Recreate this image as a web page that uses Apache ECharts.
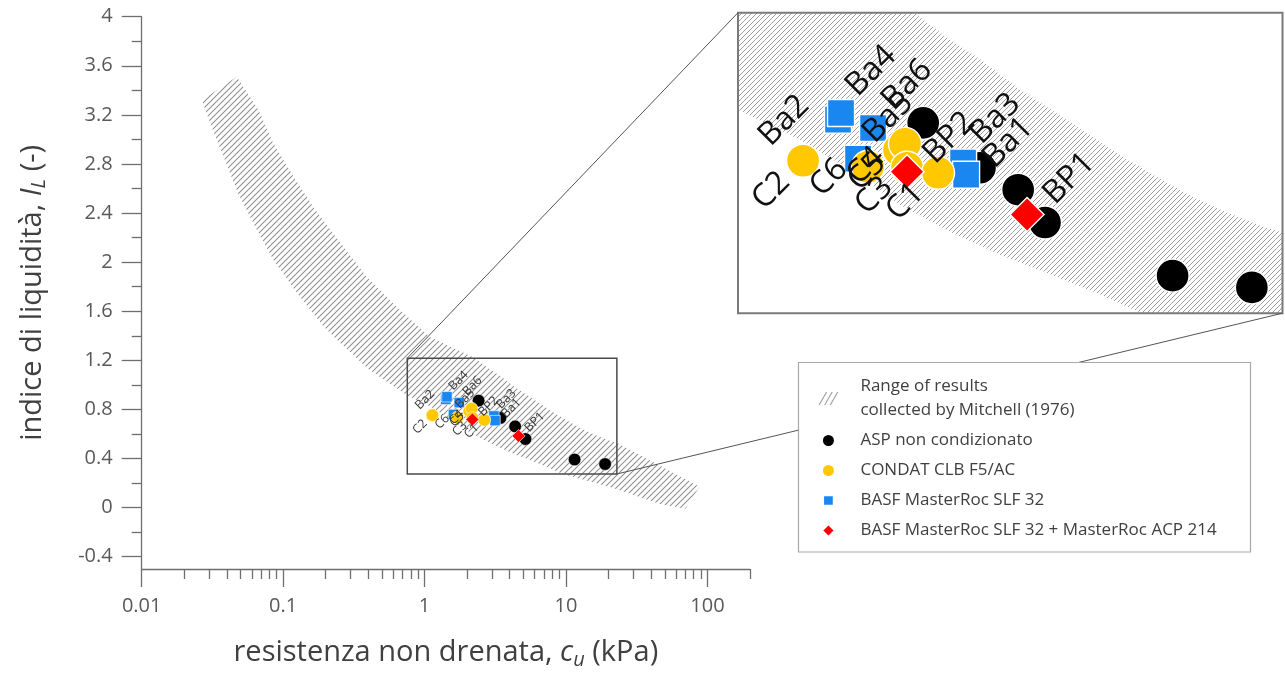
<!DOCTYPE html>
<html><head><meta charset="utf-8">
<script src="https://cdn.jsdelivr.net/npm/echarts@6/dist/echarts.min.js"></script>
<style>html,body{margin:0;padding:0;background:#fff}#c{width:1285px;height:675px}</style>
</head><body><div id="c"></div>
<script>
// ---------------- data ----------------
const aspX = [2.41, 3.44, 4.37, 5.17, 11.5, 18.9];
const aspY = [0.872, 0.731, 0.662, 0.559, 0.392, 0.355];

const condatLabels = ['C2', 'C6', 'C4', 'C5', 'C3', 'C1'];
const condatX = [1.135, 1.705, 2.071, 2.150, 2.178, 2.645];
const condatY = [0.753, 0.734, 0.787, 0.806, 0.731, 0.715];

const basfLabels = ['Ba2', 'Ba4', 'Ba5', 'Ba6', 'Ba3', 'Ba1'];
const basfX = [1.413, 1.440, 1.602, 1.760, 3.094, 3.153];
const basfY = [0.882, 0.903, 0.759, 0.856, 0.747, 0.709];

const acpLabels = ['BP2', 'BP1'];
const acpX = [2.178, 4.62];
const acpY = [0.718, 0.584];

// Mitchell (1976) range: upper and lower boundaries
const bandUpperX = [0.047, 0.067, 0.085, 0.118, 0.168, 0.253, 0.39, 0.67, 1.09, 1.6, 2.28, 2.78, 3.46, 4.31, 5.37, 6.69, 8.38, 10.4, 13.0, 16.2, 20.2, 23, 40, 88];
const bandUpperY = [3.51, 3.24, 2.97, 2.70, 2.43, 2.16, 1.88, 1.61, 1.39, 1.30, 1.217, 1.142, 1.070, 0.985, 0.913, 0.841, 0.766, 0.703, 0.640, 0.590, 0.546, 0.527, 0.38, 0.17];
const bandLowerX = [0.0266, 0.0313, 0.0388, 0.0481, 0.0633, 0.0852, 0.125, 0.192, 0.239, 0.4, 0.755, 1.113, 1.523, 2.084, 2.852, 3.902, 5.338, 7.30, 9.385, 21.6, 46, 70];
const bandLowerY = [3.32, 3.10, 2.83, 2.56, 2.29, 2.02, 1.75, 1.48, 1.37, 1.13, 0.913, 0.819, 0.725, 0.615, 0.530, 0.458, 0.396, 0.333, 0.276, 0.16, 0.03, -0.01];

// axes / ticks
const xRange = [0.01, 200];
const yRange = [-0.5, 4];
const xTickValues = [0.01, 0.1, 1, 10, 100];
const xTickLabels = ['0.01', '0.1', '1', '10', '100'];
const xMinorValues = [0.02,0.03,0.04,0.05,0.06,0.07,0.08,0.09, 0.2,0.3,0.4,0.5,0.6,0.7,0.8,0.9, 2,3,4,5,6,7,8,9, 20,30,40,50,60,70,80,90, 200];
const yTickValues = [-0.4, 0, 0.4, 0.8, 1.2, 1.6, 2, 2.4, 2.8, 3.2, 3.6, 4];
const yMinorValues = [-0.2, 0.2, 0.6, 1, 1.4, 1.8, 2.2, 2.6, 3, 3.4, 3.8];
// zoomed window shown in the inset
const zoomXRange = [0.755, 22.9];
const zoomYRange = [0.274, 1.218];

const bandName = 'Range of results\ncollected by Mitchell (1976)';
const seriesNames = ['ASP non condizionato', 'CONDAT CLB F5/AC', 'BASF MasterRoc SLF 32', 'BASF MasterRoc SLF 32 + MasterRoc ACP 214'];

// ---------------- styles ----------------
const FONT = '"Open Sans", "Noto Sans", sans-serif';
const INSET_SCALE = 2.598;
// label centre offsets on screen (inset pixels)
const labelOffsets = {
  C2: [-32, 30], C6: [-39, 11], C4: [-33, 16], C5: [-38, 28], C3: [-33, 28], C1: [-33, 29],
  Ba2: [-54, 1], Ba4: [30, -42], Ba5: [30, -41], Ba6: [34, -43], Ba3: [32, -44], Ba1: [42, -32],
  BP2: [42, -34], BP1: [42, -36]
};
const LABEL_ROT = 45;

const chart = echarts.init(document.getElementById('c'), null, {renderer: 'canvas'});

function makeHatch(step, color, lw) {
  const c = document.createElement('canvas');
  c.width = step; c.height = step;
  const g = c.getContext('2d');
  g.strokeStyle = color; g.lineWidth = lw;
  g.beginPath();
  g.moveTo(0, step); g.lineTo(step, 0);
  g.moveTo(-step / 2, step / 2); g.lineTo(step / 2, -step / 2);
  g.moveTo(step / 2, step * 1.5); g.lineTo(step * 1.5, step / 2);
  g.stroke();
  return c;
}
const hatchMain = makeHatch(6, '#8f8f8f', 1.05);
const hatchInset = makeHatch(5, '#8e8e8e', 0.85);

function clipPoly(pts, r) {
  const x0 = r.x, x1 = r.x + r.width, y0 = r.y, y1 = r.y + r.height;
  const ix = (a, b, x) => [x, a[1] + (b[1] - a[1]) * (x - a[0]) / (b[0] - a[0])];
  const iy = (a, b, y) => [a[0] + (b[0] - a[0]) * (y - a[1]) / (b[1] - a[1]), y];
  const planes = [
    [p => p[0] >= x0, (a, b) => ix(a, b, x0)],
    [p => p[0] <= x1, (a, b) => ix(a, b, x1)],
    [p => p[1] >= y0, (a, b) => iy(a, b, y0)],
    [p => p[1] <= y1, (a, b) => iy(a, b, y1)]
  ];
  let out = pts;
  planes.forEach(([inside, inter]) => {
    const inp = out; out = [];
    for (let i = 0; i < inp.length; i++) {
      const cur = inp[i], prev = inp[(i + inp.length - 1) % inp.length];
      const ci = inside(cur), pi = inside(prev);
      if (ci) { if (!pi) out.push(inter(prev, cur)); out.push(cur); }
      else if (pi) out.push(inter(prev, cur));
    }
  });
  return out;
}

function bandSeries(xi, yi, pattern) {
  const poly = [];
  bandUpperX.forEach((x, i) => poly.push([x, bandUpperY[i]]));
  for (let i = bandLowerX.length - 1; i >= 0; i--) poly.push([bandLowerX[i], bandLowerY[i]]);
  return {
    type: 'custom', name: bandName, xAxisIndex: xi, yAxisIndex: yi, z: 1,
    itemStyle: {color: '#a0a0a0'}, silent: true,
    data: [poly[0]],
    renderItem: function (params, api) {
      const pts = clipPoly(poly.map(p => api.coord(p)), params.coordSys);
      if (pts.length < 3) return null;
      return {type: 'polygon', shape: {points: pts}, style: {fill: {image: pattern, repeat: 'repeat'}, stroke: null}};
    }
  };
}

// label offsets are applied in the rotated label frame: pre-rotate them
function rotOffset(o, scale) {
  const a = LABEL_ROT * Math.PI / 180, c = Math.cos(a), s = Math.sin(a);
  return [(o[0] * c - o[1] * s) / scale, (o[0] * s + o[1] * c) / scale];
}

function scatterSeries(name, xs, ys, labels, symbol, color, size, xi, yi, scale, fontSize, labelColor, bw) {
  return {
    type: 'scatter', name: name, xAxisIndex: xi, yAxisIndex: yi, z: 2,
    symbol: symbol, symbolSize: size,
    itemStyle: {color: color, borderColor: '#ffffff', borderWidth: bw, opacity: 1},
    label: {show: !!labels, position: 'inside', rotate: LABEL_ROT, formatter: '{b}', fontSize: fontSize,
      color: labelColor, fontFamily: FONT},
    emphasis: {disabled: true},
    data: xs.map((x, i) => {
      if (!labels) return {value: [x, ys[i]]};
      return {value: [x, ys[i]], name: labels[i], label: {offset: rotOffset(labelOffsets[labels[i]], scale)}};
    })
  };
}

function pointGroup(xi, yi, scale, fontSize, labelColor, bw) {
  const k = 1 / scale;
  return [
    scatterSeries(seriesNames[0], aspX, aspY, null, 'circle', '#000000', 33 * k, xi, yi, scale, fontSize, labelColor, bw),
    scatterSeries(seriesNames[2], basfX, basfY, basfLabels, 'rect', '#1a86f0', 27 * k, xi, yi, scale, fontSize, labelColor, bw),
    scatterSeries(seriesNames[1], condatX, condatY, condatLabels, 'circle', '#ffc800', 33 * k, xi, yi, scale, fontSize, labelColor, bw),
    scatterSeries(seriesNames[3], acpX, acpY, acpLabels, 'diamond', '#ff0000', 34 * k, xi, yi, scale, fontSize, labelColor, bw)
  ];
}

const AXIS_COLOR = '#6e6e6e';
const LABEL_COLOR = '#595959';
const TITLE_COLOR = '#404040';
const lg = v => Math.log10(v);

const titleRich = {
  n: {fontSize: 29, fontFamily: FONT, color: TITLE_COLOR},
  i: {fontSize: 29, fontFamily: FONT, color: TITLE_COLOR, fontStyle: 'italic'},
  s: {fontSize: 20, fontFamily: FONT, color: TITLE_COLOR, fontStyle: 'italic', padding: [14, 0, 0, 0]}
};
const noZero = {onZero: false};

const option = {
  animation: false,
  backgroundColor: '#ffffff',
  grid: [
    {left: 141.7, top: 16.7, width: 608.3, height: 553.3},
    {left: 738, top: 12.7, width: 544.5, height: 300.5}
  ],
  xAxis: [
    {type: 'log', gridIndex: 0, logBase: 10, min: xRange[0], max: xRange[1], position: 'bottom',
      axisLine: {show: true, onZero: false, lineStyle: {color: AXIS_COLOR, width: 1.3}},
      axisTick: {show: false}, axisLabel: {show: false}, splitLine: {show: false}},
    {type: 'value', gridIndex: 0, min: lg(xRange[0]), max: lg(xRange[1]), position: 'bottom',
      axisLine: {show: false, onZero: false}, splitLine: {show: false},
      axisTick: {show: true, length: 18, lineStyle: {color: AXIS_COLOR, width: 1.3}, customValues: xTickValues.map(lg)},
      axisLabel: {show: true, margin: 27, fontSize: 20, color: LABEL_COLOR, fontFamily: FONT,
        customValues: xTickValues.map(lg),
        formatter: v => { const i = xTickValues.findIndex(t => Math.abs(lg(t) - v) < 1e-6); return i >= 0 ? xTickLabels[i] : ''; }},
      name: '{n|resistenza non drenata, }{i|c}{s|u}{n| (kPa)}', nameLocation: 'middle', nameGap: 67,
      nameTextStyle: {rich: titleRich}},
    {type: 'value', gridIndex: 0, min: lg(xRange[0]), max: lg(xRange[1]), position: 'bottom',
      axisLine: {show: false, onZero: false}, splitLine: {show: false}, axisLabel: {show: false},
      axisTick: {show: true, length: 10, lineStyle: {color: AXIS_COLOR, width: 1.3}, customValues: xMinorValues.map(lg)}},
    {type: 'log', gridIndex: 1, logBase: 10, min: zoomXRange[0], max: zoomXRange[1], show: false, axisLine: noZero}
  ],
  yAxis: [
    {type: 'value', gridIndex: 0, min: yRange[0], max: yRange[1], position: 'left',
      axisLine: {show: true, onZero: false, lineStyle: {color: AXIS_COLOR, width: 1.3}}, splitLine: {show: false},
      axisTick: {show: true, length: 20, lineStyle: {color: AXIS_COLOR, width: 1.3}, customValues: yTickValues},
      axisLabel: {show: true, margin: 29, fontSize: 20, color: LABEL_COLOR, fontFamily: FONT, customValues: yTickValues},
      name: '{n|indice di liquidità, }{i|I}{s|L}{n| (-)}', nameLocation: 'middle', nameGap: 92, nameRotate: 90,
      nameTextStyle: {rich: titleRich}},
    {type: 'value', gridIndex: 0, min: yRange[0], max: yRange[1], position: 'left',
      axisLine: {show: false, onZero: false}, splitLine: {show: false}, axisLabel: {show: false},
      axisTick: {show: true, length: 10, lineStyle: {color: AXIS_COLOR, width: 1.3}, customValues: yMinorValues}},
    {type: 'value', gridIndex: 1, min: zoomYRange[0], max: zoomYRange[1], show: false, axisLine: noZero}
  ],
  legend: {
    orient: 'vertical', left: 818.5, top: 374.5, padding: 0, itemGap: 6, z: 20,
    itemWidth: 24, itemHeight: 13, symbolKeepAspect: true,
    selectedMode: false,
    textStyle: {fontSize: 17, color: TITLE_COLOR, fontFamily: FONT, lineHeight: 24, padding: [0, 0, 0, 15]},
    data: [
      {name: bandName, icon: 'path://M0,14 L8,0 L9.4,0 L1.4,14 Z M6,14 L14,0 L15.4,0 L7.4,14 Z M12,14 L20,0 L21.4,0 L13.4,14 Z'},
      {name: seriesNames[0], icon: 'circle'},
      {name: seriesNames[1], icon: 'circle'},
      {name: seriesNames[2], icon: 'path://M0,0 L10.7,0 L10.7,10.7 L0,10.7 Z M-1.15,-1.15 L-1.14,-1.15 L-1.14,-1.14 Z M11.84,11.84 L11.85,11.84 L11.85,11.85 Z'},
      {name: seriesNames[3], icon: 'path://M6.5,0 L13,6.5 L6.5,13 L0,6.5 Z'}
    ]
  },
  series: [].concat(
    [bandSeries(0, 0, hatchMain), bandSeries(3, 2, hatchInset)],
    pointGroup(0, 0, INSET_SCALE, 12.3, '#3a3a3a', 0.6),
    pointGroup(3, 2, 1, 32, '#111111', 1.4)
  )
};
chart.setOption(option);

// frames and connector lines
const pm1 = chart.convertToPixel({xAxisIndex: 0, yAxisIndex: 0}, [zoomXRange[0], zoomYRange[1]]);
const pm2 = chart.convertToPixel({xAxisIndex: 0, yAxisIndex: 0}, [zoomXRange[1], zoomYRange[0]]);
const pi1 = chart.convertToPixel({xAxisIndex: 3, yAxisIndex: 2}, [zoomXRange[0], zoomYRange[1]]);
const pi2 = chart.convertToPixel({xAxisIndex: 3, yAxisIndex: 2}, [zoomXRange[1], zoomYRange[0]]);
chart.setOption({
  graphic: [
    {type: 'rect', z: 5, silent: true, shape: {x: pm1[0], y: pm1[1], width: pm2[0] - pm1[0], height: pm2[1] - pm1[1]},
      style: {fill: null, stroke: '#4a4a4a', lineWidth: 1.5}},
    {type: 'rect', z: 5, silent: true, shape: {x: pi1[0], y: pi1[1], width: pi2[0] - pi1[0], height: pi2[1] - pi1[1]},
      style: {fill: null, stroke: '#7a7a7a', lineWidth: 2}},
    {type: 'line', z: 5, silent: true, shape: {x1: pm1[0], y1: pm1[1], x2: pi1[0], y2: pi1[1]},
      style: {stroke: '#555555', lineWidth: 1}},
    {type: 'line', z: 5, silent: true, shape: {x1: pm2[0], y1: pm2[1], x2: pi2[0], y2: pi2[1]},
      style: {stroke: '#555555', lineWidth: 1}},
    {type: 'rect', z: 6, silent: true, shape: {x: 798.5, y: 362.5, width: 452, height: 189.5},
      style: {fill: '#ffffff', stroke: '#a8a8a8', lineWidth: 1.2}}
  ]
});
</script></body></html>
